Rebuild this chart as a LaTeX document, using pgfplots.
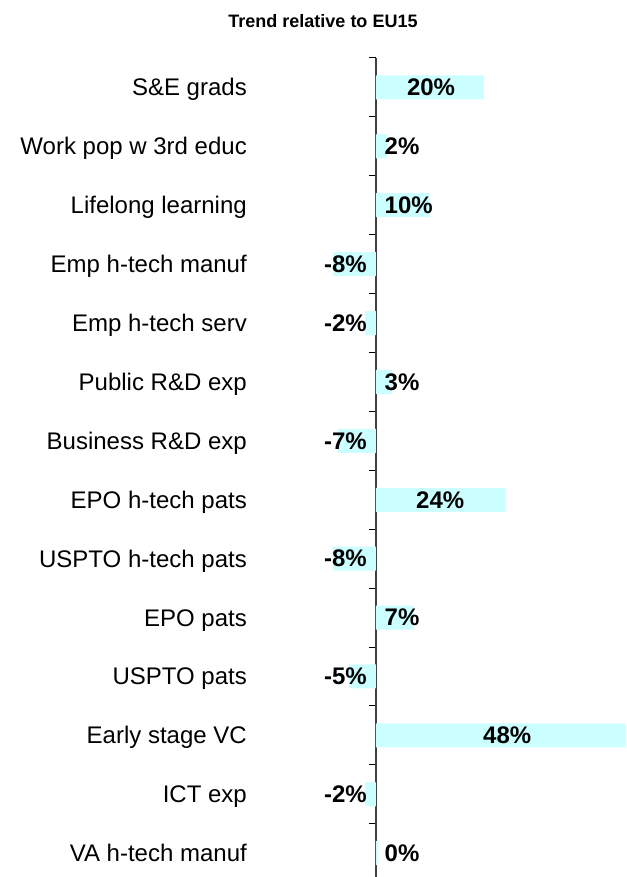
\documentclass[border=0pt]{standalone}
\usepackage{pgfplots}
\pgfplotsset{compat=1.18}
\usepackage{fontspec}
\setmainfont{Liberation Sans}
\definecolor{barcyan}{HTML}{CCFFFF}
\begin{document}
\begin{tikzpicture}[x=1pt,y=1pt]
\begin{axis}[
  scale only axis, width=304pt, height=819.3pt,
  xmin=-10, xmax=46.3,
  ymin=-0.5, ymax=13.41, y dir=reverse,
  axis x line=none, axis y line=center,
  axis line style={-, black!75, line width=1.2pt},
  ytick={0,...,13},
  yticklabels={S\&E grads, Work pop w 3rd educ, Lifelong learning, Emp h-tech manuf, Emp h-tech serv, Public R\&D exp, Business R\&D exp, EPO h-tech pats, USPTO h-tech pats, EPO pats, USPTO pats, Early stage VC, ICT exp, VA h-tech manuf},
  major tick length=0pt,
  minor ytick={-0.5,0.5,...,12.5},
  minor tick length=7pt,
  tick align=outside,
  tick style={black, line width=1pt},
  yticklabel style={font=\fontsize{24}{28}\selectfont, anchor=base east, inner sep=0pt, xshift=-129pt, yshift=-8.5pt},
  clip=true,
]
\coordinate (O) at (axis cs:0,-0.5);
\addplot[xbar, bar width=24pt, bar shift=0pt, fill=barcyan, draw=none] coordinates {
(20,0) (2,1) (10,2) (-8,3) (-2,4) (3,5) (-7,6) (24,7) (-8,8) (7,9) (-5,10) (48,11) (-2,12) (0.4,13)};
% labels left-aligned next to the axis (positive values)
\addplot[draw=none, mark=none, point meta=explicit,
  nodes near coords={\pgfmathprintnumber[fixed,precision=0,assume math mode=true]{\pgfplotspointmeta}\%},
  every node near coord/.append style={anchor=west, inner sep=0pt, font=\fontsize{24}{28}\selectfont\bfseries}]
  coordinates {(1.57,1) [2] (1.57,2) [10] (1.57,5) [3] (1.57,9) [7] (1.57,13) [0]};
% labels right-aligned next to the axis (negative values)
\addplot[draw=none, mark=none, point meta=explicit,
  nodes near coords={\pgfmathprintnumber[fixed,precision=0,assume math mode=true]{\pgfplotspointmeta}\%},
  every node near coord/.append style={anchor=east, inner sep=0pt, font=\fontsize{24}{28}\selectfont\bfseries}]
  coordinates {(-1.67,3) [-8] (-1.67,4) [-2] (-1.67,6) [-7] (-1.67,8) [-8] (-1.67,10) [-5] (-1.67,12) [-2]};
% labels centred in the long bars
\addplot[draw=none, mark=none, point meta=explicit,
  nodes near coords={\pgfmathprintnumber[fixed,precision=0,assume math mode=true]{\pgfplotspointmeta}\%},
  every node near coord/.append style={anchor=center, inner sep=0pt, font=\fontsize{24}{28}\selectfont\bfseries}]
  coordinates {(10.2,0) [20] (11.9,7) [24] (24.3,11) [48]};
\end{axis}
\node[font=\fontsize{18}{21}\selectfont\bfseries, anchor=base] at ([shift={(-53pt,30pt)}]O) {Trend relative to EU15};
\pgfresetboundingbox
\path[use as bounding box] ([shift={(-376pt,58pt)}]O) rectangle ([shift={(250pt,-819pt)}]O);
\end{tikzpicture}
\end{document}
